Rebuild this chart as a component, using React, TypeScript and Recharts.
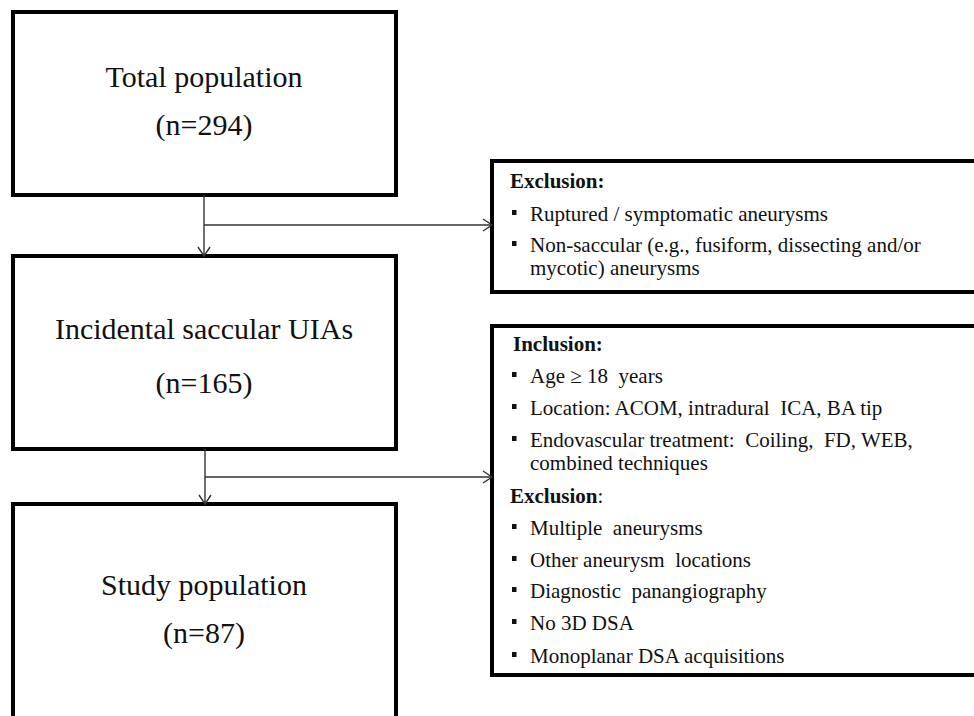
import React from 'react';
import { ComposedChart, XAxis, YAxis, ReferenceArea, ReferenceLine, Scatter } from 'recharts';

const W = 974;
const H = 716;

// main flow boxes
const mainTitles = ['Total population', 'Incidental saccular UIAs', 'Study population'];
const mainCounts = [294, 165, 87];
const mainTop = [12, 256, 504];
const mainBottom = [195, 449, 740];
const mainTitleY = [87, 339, 595];
const mainCountY = [135, 393, 643];

// side boxes
const sideTop = [161, 326];
const sideBottom = [292, 675];

// side box 1
const excl1Head = 'Exclusion:';
const excl1Items = ['Ruptured / symptomatic aneurysms', 'Non-saccular (e.g., fusiform, dissecting and/or'];
const excl1Wrap = ['mycotic) aneurysms'];
const excl1Y = [188, 221, 252, 275];

// side box 2
const inclHead = 'Inclusion:';
const inclItems = ['Age \u2265 18  years', 'Location: ACOM, intradural  ICA, BA tip', 'Endovascular treatment:  Coiling,  FD, WEB,'];
const inclWrap = ['combined techniques'];
const inclY = [351, 383, 415, 447, 470];
const excl2Head = 'Exclusion';
const excl2Items = ['Multiple  aneurysms', 'Other aneurysm  locations', 'Diagnostic  panangiography', 'No 3D DSA', 'Monoplanar DSA acquisitions'];
const excl2Y = [503, 535, 567, 598, 630, 663];

// connector arrows: trunk x, from y, to y, branch y
const trunkX = [204, 205];
const branchY = [225, 477];

const boxLeft = 13;
const boxRight = 396;
const sideLeft = 492;
const sideRight = 985;

type TextPt = { x: number; y: number; text: string; kind: string };

const texts: TextPt[] = [];
mainTitles.forEach((t, i) => {
  texts.push({ x: 204, y: mainTitleY[i], text: t, kind: 'main' });
  texts.push({ x: 204, y: mainCountY[i], text: `(n=${mainCounts[i]})`, kind: 'main' });
});
texts.push({ x: 510, y: excl1Y[0], text: excl1Head, kind: 'head' });
excl1Items.forEach((t, i) => texts.push({ x: 530, y: excl1Y[i + 1], text: t, kind: 'bullet' }));
excl1Wrap.forEach((t, i) => texts.push({ x: 530, y: excl1Y[excl1Items.length + 1 + i], text: t, kind: 'plain' }));
texts.push({ x: 513, y: inclY[0], text: inclHead, kind: 'head' });
inclItems.forEach((t, i) => texts.push({ x: 530, y: inclY[i + 1], text: t, kind: 'bullet' }));
inclWrap.forEach((t, i) => texts.push({ x: 530, y: inclY[inclItems.length + 1 + i], text: t, kind: 'plain' }));
texts.push({ x: 510, y: excl2Y[0], text: excl2Head, kind: 'headColon' });
excl2Items.forEach((t, i) => texts.push({ x: 530, y: excl2Y[i + 1], text: t, kind: 'bullet' }));

const FONT = '"Liberation Serif", "Times New Roman", serif';

const TextShape = (props: any) => {
  const { cx, cy, payload } = props;
  if (payload.kind === 'main') {
    return (
      <text x={cx} y={cy} textAnchor="middle" fontFamily={FONT} fontSize={30} fill="#111">
        {payload.text}
      </text>
    );
  }
  if (payload.kind === 'head' || payload.kind === 'headColon') {
    return (
      <text x={cx} y={cy} fontFamily={FONT} fontSize={21} fill="#111">
        <tspan fontWeight="bold">{payload.text}</tspan>
        {payload.kind === 'headColon' ? <tspan>:</tspan> : null}
      </text>
    );
  }
  return (
    <g>
      {payload.kind === 'bullet' ? <rect x={cx - 18} y={cy - 11} width={4.5} height={5} fill="#111" /> : null}
      <text x={cx} y={cy} fontFamily={FONT} fontSize={21} fill="#111" style={{ whiteSpace: 'pre' }}>
        {payload.text}
      </text>
    </g>
  );
};

const ArrowShape = (props: any) => {
  const { x1, y1, x2, y2 } = props;
  const dx = x2 - x1;
  const dy = y2 - y1;
  const len = Math.sqrt(dx * dx + dy * dy) || 1;
  const ux = dx / len;
  const uy = dy / len;
  const hl = 9;
  const hw = 6;
  const bx = x2 - ux * hl;
  const by = y2 - uy * hl;
  const p1 = `${bx - uy * hw},${by + ux * hw}`;
  const p2 = `${bx + uy * hw},${by - ux * hw}`;
  return (
    <g stroke="#333" strokeWidth={1.4} fill="none">
      <line x1={x1} y1={y1} x2={x2} y2={y2} />
      <polyline points={`${p1} ${x2},${y2} ${p2}`} />
    </g>
  );
};

export default function App() {
  return (
    <div style={{ position: 'absolute', left: 0, top: 0, width: W, height: H, background: '#fff' }}>
      <ComposedChart width={W} height={H} margin={{ top: 0, right: 0, bottom: 0, left: 0 }}>
        <XAxis type="number" dataKey="x" domain={[0, W]} hide allowDataOverflow />
        <YAxis type="number" dataKey="y" domain={[0, H]} reversed hide allowDataOverflow />
        {trunkX.map((tx, i) => (
          <ReferenceLine
            key={`t${i}`}
            segment={[{ x: tx, y: mainBottom[i] }, { x: tx, y: mainTop[i + 1] }]}
            shape={ArrowShape}
            ifOverflow="visible"
          />
        ))}
        {trunkX.map((tx, i) => (
          <ReferenceLine
            key={`b${i}`}
            segment={[{ x: tx, y: branchY[i] }, { x: sideLeft, y: branchY[i] }]}
            shape={ArrowShape}
            ifOverflow="visible"
          />
        ))}
        {mainTop.map((t, i) => (
          <ReferenceArea
            key={`m${i}`}
            x1={boxLeft}
            x2={boxRight}
            y1={t}
            y2={mainBottom[i]}
            stroke="#000"
            strokeWidth={4}
            fill="#fff"
            fillOpacity={1}
            ifOverflow="visible"
          />
        ))}
        {sideTop.map((t, i) => (
          <ReferenceArea
            key={`s${i}`}
            x1={sideLeft}
            x2={sideRight}
            y1={t}
            y2={sideBottom[i]}
            stroke="#000"
            strokeWidth={4}
            fill="#fff"
            fillOpacity={1}
            ifOverflow="visible"
          />
        ))}
        <Scatter data={texts} dataKey="y" shape={TextShape} isAnimationActive={false} />
      </ComposedChart>
    </div>
  );
}
